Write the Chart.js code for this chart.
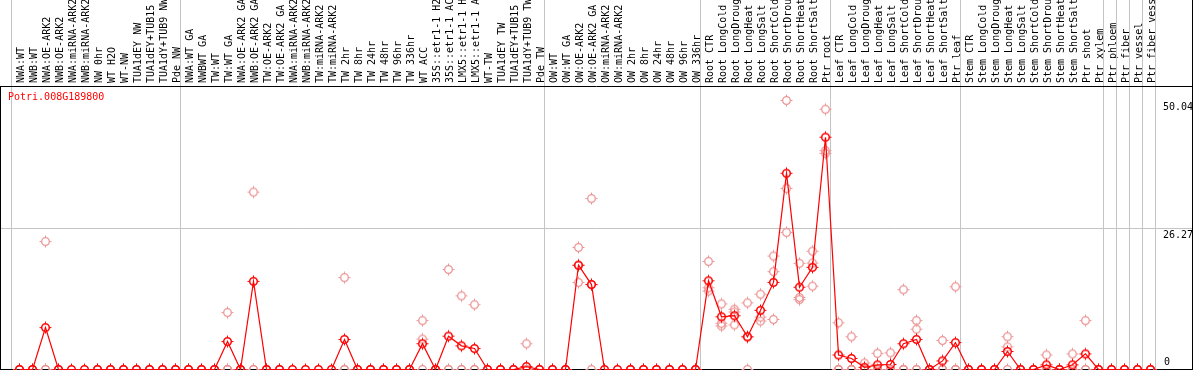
<!DOCTYPE html>
<html>
<head>
<meta charset="utf-8">
<script src="https://cdn.jsdelivr.net/npm/chart.js@4.4.1/dist/chart.umd.min.js"></script>
<style>
  html, body { margin: 0; padding: 0; background: #fff; }
  canvas { display: block; }
</style>
</head>
<body>
<canvas id="chart" width="1194" height="370"></canvas>
<script>
const geneName = "Potri.008G189800"

const labels = [
  "NWA:WT", "NWB:WT", "NWA:OE-ARK2", "NWB:OE-ARK2", "NWA:miRNA-ARK2", "NWB:miRNA-ARK2",
  "NW 0hr", "WT H2O", "WT-NW", "TUA1dEY NW", "TUA1dEY+TUB15 NW", "TUA1dY+TUB9 NW", "Pde NW",
  "NWA:WT GA", "NWBWT GA", "TW:WT", "TW:WT GA", "NWA:OE-ARK2 GA", "NWB:OE-ARK2 GA",
  "TW:OE-ARK2", "TW:OE-ARK2 GA", "NWA:miRNA-ARK2", "NWB:miRNA-ARK2", "TW:miRNA-ARK2",
  "TW:miRNA-ARK2", "TW 2hr", "TW 8hr", "TW 24hr", "TW 48hr", "TW 96hr", "TW 336hr",
  "WT ACC", "35S::etr1-1 H2O", "35S::etr1-1 ACC", "LMX5::etr1-1 H2O", "LMX5::etr1-1 ACC",
  "WT-TW", "TUA1dEY TW", "TUA1dEY+TUB15 TW", "TUA1dY+TUB9 TW", "Pde TW",
  "OW:WT", "OW:WT GA", "OW:OE-ARK2", "OW:OE-ARK2 GA", "OW:miRNA-ARK2", "OW:miRNA-ARK2",
  "OW 2hr", "OW 8hr", "OW 24hr", "OW 48hr", "OW 96hr", "OW 336hr",
  "Root CTR", "Root LongCold", "Root LongDrought", "Root LongHeat", "Root LongSalt",
  "Root ShortCold", "Root ShortDrought", "Root ShortHeat", "Root ShortSalt", "Ptr root",
  "Leaf CTR", "Leaf LongCold", "Leaf LongDrought", "Leaf LongHeat", "Leaf LongSalt",
  "Leaf ShortCold", "Leaf ShortDrought", "Leaf ShortHeat", "Leaf ShortSalt", "Ptr leaf",
  "Stem CTR", "Stem LongCold", "Stem LongDrought", "Stem LongHeat", "Stem LongSalt",
  "Stem ShortCold", "Stem ShortDrought", "Stem ShortHeat", "Stem ShortSalt", "Ptr shoot",
  "Ptr xylem", "Ptr phloem", "Ptr fiber", "Ptr vessel", "Ptr fiber vessel"
]

// mean expression per sample
const means = [
  0, 0, 7.8, 0, 0, 0, 0, 0, 0, 0, 0, 0, 0,
  0, 0, 0, 5.2, 0, 16.4, 0, 0, 0, 0, 0, 0, 5.6, 0, 0, 0, 0, 0, 4.8, 0, 6.2, 4.4, 3.9, 0, 0, 0, 0.55, 0,
  0, 0, 19.4, 15.8, 0, 0, 0, 0, 0, 0, 0, 0,
  16.5, 9.8, 10.0, 6.1, 11.0, 16.2, 36.5, 15.3, 19.0, 43.2,
  2.7, 2.05, 0.4, 0.85, 0.93, 4.8, 5.6, 0, 1.6, 5.0,
  0, 0, 0, 3.35, 0, 0, 0.87, 0, 0.87, 2.9,
  0, 0, 0, 0, 0
]

// single replicates
const rep1 = [
  0, 0, 23.8, 0, 0, 0, 0, 0, 0, 0, 0, 0, 0,
  0, 0, 0, 10.6, 0, 33.0, 0, 0, 0, 0, 0, 0, 17.1, 0, 0, 0, 0, 0, 9.1, 0, 18.6, 13.7, 12.05, 0, 0, 0, 4.8, 0,
  0, 0, 22.7, 31.8, 0, 0, 0, 0, 0, 0, 0, 0,
  20.1, 12.2, 11.2, 12.4, 14.0, 21.1, 50.04, 19.75, 22.0, 48.4,
  8.7, 6.1, 1.2, 3.0, 3.1, 14.85, 9.1, 0, 5.4, 15.4,
  0, 0, 0, 6.1, 0, 0, 2.7, 0, 2.9, 9.1,
  0, 0, 0, 0, 0
]
const rep2 = [
  0, 0, 0, 0, 0, 0, 0, 0, 0, 0, 0, 0, 0,
  0, 0, 0, 0, 0, 0, 0, 0, 0, 0, 0, 0, 0, 0, 0, 0, 0, 0, 5.65, 0, 0, 0, 0, 0, 0, 0, 0, 0,
  0, 0, 16.2, 0, 0, 0, 0, 0, 0, 0, 0, 0,
  15.2, 8.6, 10.7, 6.0, 9.75, 18.2, 33.7, 13.4, 19.8, 40.7,
  0, 0, 0, 0, 0, 0, 7.5, 0, 0, 0,
  0, 0, 0, 4.2, 0, 0, 0, 0, 0, 0,
  0, 0, 0, 0, 0
]
const rep3 = [
  0, 0, 0, 0, 0, 0, 0, 0, 0, 0, 0, 0, 0,
  0, 0, 0, 0, 0, 0, 0, 0, 0, 0, 0, 0, 0, 0, 0, 0, 0, 0, 0, 0, 0, 0, 0, 0, 0, 0, 0, 0,
  0, 0, 19.4, 15.8, 0, 0, 0, 0, 0, 0, 0, 0,
  14.6, 8.1, 8.3, 0, 9.0, 9.3, 25.5, 13.0, 15.5, 40.2,
  0, 0, 0, 0, 0, 0, 0, 0, 0, 0,
  0, 0, 0, 0, 0, 0, 0, 0, 0, 0,
  0, 0, 0, 0, 0
]

const yTicks = [0, 26.27, 50.04]
// sample index after which a group separator is drawn (-1 = left edge)
const groupBreaks = [-1, 12, 40, 52, 62, 72, 83, 84, 85, 86, 87]

const FONT = "10px 'DejaVu Sans Mono', monospace"

function makeMarker(color, lw) {
  const c = document.createElement("canvas")
  c.width = 15
  c.height = 15
  const g = c.getContext("2d")
  g.strokeStyle = color
  g.lineWidth = lw
  g.beginPath()
  g.arc(7.5, 7.5, 3.8, 0, Math.PI * 2)
  g.stroke()
  g.lineWidth = 1
  g.beginPath()
  g.moveTo(7.5, 1.5); g.lineTo(7.5, 3)
  g.moveTo(7.5, 12); g.lineTo(7.5, 13.5)
  g.moveTo(1.5, 7.5); g.lineTo(3, 7.5)
  g.moveTo(12, 7.5); g.lineTo(13.5, 7.5)
  g.stroke()
  return c
}

const redMarker = makeMarker("#ff0000", 1.5)
const pinkMarker = makeMarker("#ec9494", 1.3)

const repPoints = []
labels.forEach((lab, i) => {
  ;[rep1, rep2, rep3].forEach((r) => repPoints.push({ x: lab, y: r[i] }))
})

const framePlugin = {
  id: "frame",
  beforeDatasetsDraw(chart) {
    const ctx = chart.ctx
    const x = chart.scales.x
    const y = chart.scales.y
    ctx.save()
    // group separators
    ctx.strokeStyle = "#c4c4c4"
    ctx.lineWidth = 1
    ctx.beginPath()
    groupBreaks.forEach((k) => {
      const px = x.getPixelForValue(k + 0.5) - 1.5
      ctx.moveTo(px, 0)
      ctx.lineTo(px, chart.chartArea.bottom)
    })
    const gy = Math.round(y.getPixelForValue(26.27)) + 0.5
    ctx.moveTo(1, gy)
    ctx.lineTo(1192, gy)
    ctx.stroke()

    // black frame
    const top = Math.round(chart.chartArea.top) + 0.5
    const bot = 369.5
    ctx.strokeStyle = "#000"
    ctx.beginPath()
    ctx.moveTo(0, top); ctx.lineTo(1193, top)
    ctx.moveTo(1192.5, 0); ctx.lineTo(1192.5, bot)
    ctx.moveTo(0, bot); ctx.lineTo(1193, bot)
    ctx.moveTo(0.5, top); ctx.lineTo(0.5, bot)
    ctx.stroke()

    // value labels on the right
    ctx.font = FONT
    ctx.fillStyle = "#000"
    ctx.textAlign = "left"
    yTicks.forEach((v) => {
      const py = y.getPixelForValue(v)
      if (v === 0) {
        ctx.textBaseline = "bottom"
        ctx.fillText("0", 1164, py - 2)
      } else {
        ctx.textBaseline = "top"
        ctx.fillText(v.toFixed(2), 1163, py + 2)
      }
    })

    // gene name
    ctx.fillStyle = "#ff0000"
    ctx.textBaseline = "top"
    ctx.fillText(geneName, 8, top + 6)
    ctx.restore()
  },
}

new Chart(document.getElementById("chart"), {
  type: "line",
  data: {
    labels: labels,
    datasets: [
      {
        label: "mean",
        data: means,
        borderColor: "#ff0000",
        borderWidth: 1.2,
        tension: 0,
        pointStyle: redMarker,
        clip: false,
        order: 1,
      },
      {
        label: "replicates",
        data: repPoints,
        showLine: false,
        pointStyle: pinkMarker,
        clip: false,
        order: 2,
      },
    ],
  },
  options: {
    responsive: false,
    animation: false,
    devicePixelRatio: 1,
    layout: { autoPadding: false, padding: { left: 13, right: 37, top: 0, bottom: 0.5 } },
    scales: {
      x: {
        type: "category",
        position: "top",
        offset: true,
        grid: { display: false },
        border: { display: false },
        ticks: {
          autoSkip: false,
          minRotation: 90,
          maxRotation: 90,
          padding: -5,
          labelOffset: 12,
          color: "#000",
          font: { family: "'DejaVu Sans Mono', monospace", size: 10, lineHeight: 1 },
        },
        afterFit: (scale) => {
          scale.height = 86
        },
      },
      y: {
        display: false,
        min: 0,
        max: 52.73,
      },
    },
    plugins: {
      legend: { display: false },
      tooltip: { enabled: false },
    },
  },
  plugins: [framePlugin],
})
</script>
</body>
</html>
